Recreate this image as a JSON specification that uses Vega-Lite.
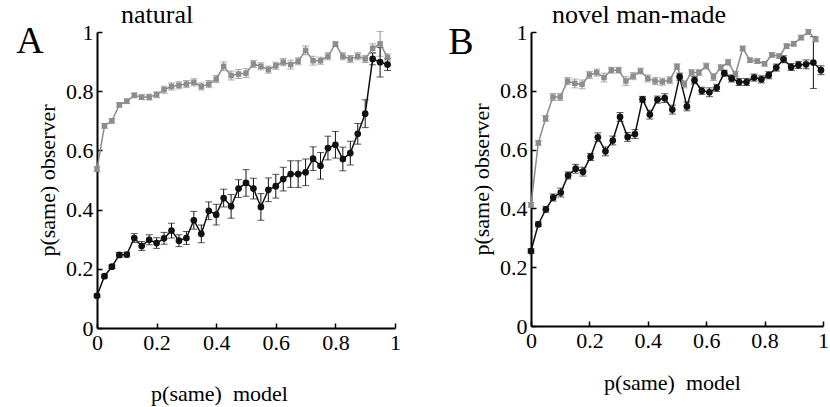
{
  "$schema": "https://vega.github.io/schema/vega-lite/v6.json",
  "padding": {"left": 16, "top": 2, "right": 0, "bottom": 2},
  "spacing": 136,
  "bounds": "flush",
  "datasets": {
    "pts": [
      {"p":"A","s":"gray","x":0,"y":0.537,"e":0.008},
      {"p":"A","s":"gray","x":0.025,"y":0.683,"e":0.008},
      {"p":"A","s":"gray","x":0.05,"y":0.7,"e":0.008},
      {"p":"A","s":"gray","x":0.075,"y":0.754,"e":0.008},
      {"p":"A","s":"gray","x":0.1,"y":0.766,"e":0.008},
      {"p":"A","s":"gray","x":0.125,"y":0.786,"e":0.008},
      {"p":"A","s":"gray","x":0.15,"y":0.78,"e":0.008},
      {"p":"A","s":"gray","x":0.175,"y":0.78,"e":0.01},
      {"p":"A","s":"gray","x":0.2,"y":0.788,"e":0.01},
      {"p":"A","s":"gray","x":0.225,"y":0.805,"e":0.012},
      {"p":"A","s":"gray","x":0.25,"y":0.816,"e":0.012},
      {"p":"A","s":"gray","x":0.275,"y":0.82,"e":0.012},
      {"p":"A","s":"gray","x":0.3,"y":0.824,"e":0.012},
      {"p":"A","s":"gray","x":0.325,"y":0.83,"e":0.012},
      {"p":"A","s":"gray","x":0.35,"y":0.816,"e":0.012},
      {"p":"A","s":"gray","x":0.375,"y":0.824,"e":0.012},
      {"p":"A","s":"gray","x":0.4,"y":0.841,"e":0.012},
      {"p":"A","s":"gray","x":0.425,"y":0.884,"e":0.015},
      {"p":"A","s":"gray","x":0.45,"y":0.853,"e":0.015},
      {"p":"A","s":"gray","x":0.475,"y":0.858,"e":0.015},
      {"p":"A","s":"gray","x":0.5,"y":0.861,"e":0.015},
      {"p":"A","s":"gray","x":0.525,"y":0.892,"e":0.012},
      {"p":"A","s":"gray","x":0.55,"y":0.884,"e":0.012},
      {"p":"A","s":"gray","x":0.575,"y":0.873,"e":0.012},
      {"p":"A","s":"gray","x":0.6,"y":0.886,"e":0.012},
      {"p":"A","s":"gray","x":0.625,"y":0.898,"e":0.012},
      {"p":"A","s":"gray","x":0.65,"y":0.89,"e":0.015},
      {"p":"A","s":"gray","x":0.675,"y":0.901,"e":0.012},
      {"p":"A","s":"gray","x":0.7,"y":0.938,"e":0.015},
      {"p":"A","s":"gray","x":0.725,"y":0.903,"e":0.015},
      {"p":"A","s":"gray","x":0.75,"y":0.903,"e":0.012},
      {"p":"A","s":"gray","x":0.775,"y":0.918,"e":0.012},
      {"p":"A","s":"gray","x":0.8,"y":0.959,"e":0.008},
      {"p":"A","s":"gray","x":0.825,"y":0.918,"e":0.012},
      {"p":"A","s":"gray","x":0.85,"y":0.909,"e":0.012},
      {"p":"A","s":"gray","x":0.875,"y":0.918,"e":0.012},
      {"p":"A","s":"gray","x":0.9,"y":0.909,"e":0.012},
      {"p":"A","s":"gray","x":0.925,"y":0.945,"e":0.015},
      {"p":"A","s":"gray","x":0.95,"y":0.96,"e":0.042},
      {"p":"A","s":"gray","x":0.975,"y":0.914,"e":0.012},
      {"p":"A","s":"black","x":0,"y":0.109,"e":0.006},
      {"p":"A","s":"black","x":0.025,"y":0.175,"e":0.006},
      {"p":"A","s":"black","x":0.05,"y":0.207,"e":0.006},
      {"p":"A","s":"black","x":0.075,"y":0.247,"e":0.008},
      {"p":"A","s":"black","x":0.1,"y":0.248,"e":0.008},
      {"p":"A","s":"black","x":0.125,"y":0.304,"e":0.015},
      {"p":"A","s":"black","x":0.15,"y":0.277,"e":0.015},
      {"p":"A","s":"black","x":0.175,"y":0.298,"e":0.017},
      {"p":"A","s":"black","x":0.2,"y":0.287,"e":0.018},
      {"p":"A","s":"black","x":0.225,"y":0.303,"e":0.02},
      {"p":"A","s":"black","x":0.25,"y":0.329,"e":0.025},
      {"p":"A","s":"black","x":0.275,"y":0.295,"e":0.02},
      {"p":"A","s":"black","x":0.3,"y":0.304,"e":0.022},
      {"p":"A","s":"black","x":0.325,"y":0.364,"e":0.03},
      {"p":"A","s":"black","x":0.35,"y":0.318,"e":0.03},
      {"p":"A","s":"black","x":0.375,"y":0.396,"e":0.03},
      {"p":"A","s":"black","x":0.4,"y":0.383,"e":0.035},
      {"p":"A","s":"black","x":0.425,"y":0.439,"e":0.03},
      {"p":"A","s":"black","x":0.45,"y":0.411,"e":0.04},
      {"p":"A","s":"black","x":0.475,"y":0.471,"e":0.03},
      {"p":"A","s":"black","x":0.5,"y":0.49,"e":0.045},
      {"p":"A","s":"black","x":0.525,"y":0.471,"e":0.035},
      {"p":"A","s":"black","x":0.55,"y":0.409,"e":0.045},
      {"p":"A","s":"black","x":0.575,"y":0.467,"e":0.04},
      {"p":"A","s":"black","x":0.6,"y":0.479,"e":0.04},
      {"p":"A","s":"black","x":0.625,"y":0.503,"e":0.04},
      {"p":"A","s":"black","x":0.65,"y":0.52,"e":0.045},
      {"p":"A","s":"black","x":0.675,"y":0.52,"e":0.045},
      {"p":"A","s":"black","x":0.7,"y":0.526,"e":0.045},
      {"p":"A","s":"black","x":0.725,"y":0.572,"e":0.04},
      {"p":"A","s":"black","x":0.75,"y":0.548,"e":0.045},
      {"p":"A","s":"black","x":0.775,"y":0.608,"e":0.04},
      {"p":"A","s":"black","x":0.8,"y":0.619,"e":0.045},
      {"p":"A","s":"black","x":0.825,"y":0.571,"e":0.04},
      {"p":"A","s":"black","x":0.85,"y":0.591,"e":0.04},
      {"p":"A","s":"black","x":0.875,"y":0.656,"e":0.035},
      {"p":"A","s":"black","x":0.9,"y":0.724,"e":0.047},
      {"p":"A","s":"black","x":0.925,"y":0.909,"e":0.02},
      {"p":"A","s":"black","x":0.95,"y":0.898,"e":0.05},
      {"p":"A","s":"black","x":0.975,"y":0.89,"e":0.02},
      {"p":"B","s":"gray","x":0,"y":0.412,"e":0.008},
      {"p":"B","s":"gray","x":0.025,"y":0.623,"e":0.008},
      {"p":"B","s":"gray","x":0.05,"y":0.706,"e":0.01},
      {"p":"B","s":"gray","x":0.075,"y":0.779,"e":0.012},
      {"p":"B","s":"gray","x":0.1,"y":0.779,"e":0.012},
      {"p":"B","s":"gray","x":0.125,"y":0.833,"e":0.012},
      {"p":"B","s":"gray","x":0.15,"y":0.825,"e":0.015},
      {"p":"B","s":"gray","x":0.175,"y":0.822,"e":0.015},
      {"p":"B","s":"gray","x":0.2,"y":0.854,"e":0.012},
      {"p":"B","s":"gray","x":0.225,"y":0.862,"e":0.012},
      {"p":"B","s":"gray","x":0.25,"y":0.845,"e":0.015},
      {"p":"B","s":"gray","x":0.275,"y":0.87,"e":0.01},
      {"p":"B","s":"gray","x":0.3,"y":0.87,"e":0.01},
      {"p":"B","s":"gray","x":0.325,"y":0.833,"e":0.015},
      {"p":"B","s":"gray","x":0.35,"y":0.85,"e":0.012},
      {"p":"B","s":"gray","x":0.375,"y":0.867,"e":0.01},
      {"p":"B","s":"gray","x":0.4,"y":0.842,"e":0.012},
      {"p":"B","s":"gray","x":0.425,"y":0.833,"e":0.012},
      {"p":"B","s":"gray","x":0.45,"y":0.831,"e":0.012},
      {"p":"B","s":"gray","x":0.475,"y":0.836,"e":0.012},
      {"p":"B","s":"gray","x":0.5,"y":0.882,"e":0.01},
      {"p":"B","s":"gray","x":0.525,"y":0.822,"e":0.012},
      {"p":"B","s":"gray","x":0.55,"y":0.862,"e":0.01},
      {"p":"B","s":"gray","x":0.575,"y":0.862,"e":0.01},
      {"p":"B","s":"gray","x":0.6,"y":0.884,"e":0.01},
      {"p":"B","s":"gray","x":0.625,"y":0.847,"e":0.012},
      {"p":"B","s":"gray","x":0.65,"y":0.879,"e":0.01},
      {"p":"B","s":"gray","x":0.675,"y":0.897,"e":0.01},
      {"p":"B","s":"gray","x":0.7,"y":0.856,"e":0.01},
      {"p":"B","s":"gray","x":0.725,"y":0.944,"e":0.008},
      {"p":"B","s":"gray","x":0.75,"y":0.904,"e":0.008},
      {"p":"B","s":"gray","x":0.775,"y":0.901,"e":0.008},
      {"p":"B","s":"gray","x":0.8,"y":0.892,"e":0.008},
      {"p":"B","s":"gray","x":0.825,"y":0.922,"e":0.008},
      {"p":"B","s":"gray","x":0.85,"y":0.918,"e":0.008},
      {"p":"B","s":"gray","x":0.875,"y":0.952,"e":0.008},
      {"p":"B","s":"gray","x":0.9,"y":0.96,"e":0.008},
      {"p":"B","s":"gray","x":0.925,"y":0.981,"e":0.008},
      {"p":"B","s":"gray","x":0.95,"y":1.0,"e":0.008},
      {"p":"B","s":"gray","x":0.975,"y":0.975,"e":0.008},
      {"p":"B","s":"black","x":0,"y":0.255,"e":0.008},
      {"p":"B","s":"black","x":0.025,"y":0.346,"e":0.008},
      {"p":"B","s":"black","x":0.051,"y":0.397,"e":0.01},
      {"p":"B","s":"black","x":0.076,"y":0.437,"e":0.012},
      {"p":"B","s":"black","x":0.102,"y":0.454,"e":0.015},
      {"p":"B","s":"black","x":0.127,"y":0.512,"e":0.012},
      {"p":"B","s":"black","x":0.153,"y":0.535,"e":0.015},
      {"p":"B","s":"black","x":0.178,"y":0.525,"e":0.015},
      {"p":"B","s":"black","x":0.204,"y":0.575,"e":0.012},
      {"p":"B","s":"black","x":0.229,"y":0.642,"e":0.015},
      {"p":"B","s":"black","x":0.255,"y":0.594,"e":0.015},
      {"p":"B","s":"black","x":0.28,"y":0.631,"e":0.015},
      {"p":"B","s":"black","x":0.305,"y":0.711,"e":0.015},
      {"p":"B","s":"black","x":0.331,"y":0.643,"e":0.015},
      {"p":"B","s":"black","x":0.356,"y":0.653,"e":0.015},
      {"p":"B","s":"black","x":0.382,"y":0.771,"e":0.01},
      {"p":"B","s":"black","x":0.407,"y":0.719,"e":0.015},
      {"p":"B","s":"black","x":0.433,"y":0.77,"e":0.012},
      {"p":"B","s":"black","x":0.458,"y":0.775,"e":0.015},
      {"p":"B","s":"black","x":0.484,"y":0.736,"e":0.015},
      {"p":"B","s":"black","x":0.509,"y":0.848,"e":0.012},
      {"p":"B","s":"black","x":0.534,"y":0.747,"e":0.015},
      {"p":"B","s":"black","x":0.56,"y":0.836,"e":0.012},
      {"p":"B","s":"black","x":0.585,"y":0.8,"e":0.012},
      {"p":"B","s":"black","x":0.611,"y":0.795,"e":0.015},
      {"p":"B","s":"black","x":0.636,"y":0.81,"e":0.012},
      {"p":"B","s":"black","x":0.662,"y":0.86,"e":0.01},
      {"p":"B","s":"black","x":0.687,"y":0.842,"e":0.012},
      {"p":"B","s":"black","x":0.713,"y":0.83,"e":0.012},
      {"p":"B","s":"black","x":0.738,"y":0.83,"e":0.012},
      {"p":"B","s":"black","x":0.764,"y":0.845,"e":0.012},
      {"p":"B","s":"black","x":0.789,"y":0.839,"e":0.012},
      {"p":"B","s":"black","x":0.814,"y":0.853,"e":0.012},
      {"p":"B","s":"black","x":0.84,"y":0.879,"e":0.012},
      {"p":"B","s":"black","x":0.865,"y":0.907,"e":0.012},
      {"p":"B","s":"black","x":0.891,"y":0.881,"e":0.012},
      {"p":"B","s":"black","x":0.916,"y":0.888,"e":0.012},
      {"p":"B","s":"black","x":0.942,"y":0.89,"e":0.015},
      {"p":"B","s":"black","x":0.967,"y":0.896,"e":0.088},
      {"p":"B","s":"black","x":0.993,"y":0.87,"e":0.015}
    ]
  },
  "hconcat": [
    {
      "width": 298,
      "height": 296,
      "title": {"text": "natural", "anchor": "start", "frame": "group", "dx": 24},
      "layer": [
        {
          "data": {"name": "pts"},
          "transform": [{"filter": "datum.p === 'A'"}],
          "encoding": {
            "x": {"field": "x", "type": "quantitative", "scale": {"domain": [0, 1], "nice": false},
                  "axis": {"values": [0, 0.2, 0.4, 0.6, 0.8, 1], "title": "p(same)\u00a0 model", "titleX": 122, "titleAlign": "center", "titlePadding": 30}},
            "y": {"field": "y", "type": "quantitative", "scale": {"domain": [0, 1], "nice": false},
                  "axis": {"values": [0, 0.2, 0.4, 0.6, 0.8, 1], "title": "p(same) observer", "titlePadding": 6}},
            "color": {"field": "s", "type": "nominal", "scale": {"domain": ["gray", "black"], "range": ["#8c8c8c", "#111111"]}, "legend": null}
          },
          "layer": [
            {"mark": {"type": "errorbar", "ticks": {"size": 7}, "thickness": 1}, "encoding": {"yError": {"field": "e"}}},
            {"mark": {"type": "line", "strokeWidth": 1.5}},
            {"mark": {"type": "point", "filled": true, "opacity": 1},
             "encoding": {"shape": {"field": "s", "type": "nominal", "scale": {"domain": ["gray", "black"], "range": ["square", "circle"]}, "legend": null},
                          "size": {"field": "s", "type": "nominal", "scale": {"domain": ["gray", "black"], "range": [30, 45]}, "legend": null}}}
          ]
        },
        {
          "data": {"values": [{"label": "A"}]},
          "mark": {"type": "text", "fontSize": 38, "align": "center", "baseline": "alphabetic", "font": "Liberation Serif", "color": "#000000"},
          "encoding": {"x": {"datum": -0.225, "type": "quantitative"}, "y": {"datum": 0.93, "type": "quantitative"}, "text": {"field": "label"}}
        }
      ]
    },
    {
      "width": 292,
      "height": 294,
      "title": {"text": "novel man-made", "anchor": "start", "frame": "group", "dx": 21},
      "layer": [
        {
          "data": {"name": "pts"},
          "transform": [{"filter": "datum.p === 'B'"}],
          "encoding": {
            "x": {"field": "x", "type": "quantitative", "scale": {"domain": [0, 1], "nice": false},
                  "axis": {"values": [0, 0.2, 0.4, 0.6, 0.8, 1], "title": "p(same)\u00a0 model", "titleX": 141, "titleAlign": "center", "titlePadding": 21}},
            "y": {"field": "y", "type": "quantitative", "scale": {"domain": [0, 1], "nice": false},
                  "axis": {"values": [0, 0.2, 0.4, 0.6, 0.8, 1], "title": "p(same) observer", "titlePadding": 6}},
            "color": {"field": "s", "type": "nominal", "scale": {"domain": ["gray", "black"], "range": ["#8c8c8c", "#111111"]}, "legend": null}
          },
          "layer": [
            {"mark": {"type": "errorbar", "ticks": {"size": 7}, "thickness": 1}, "encoding": {"yError": {"field": "e"}}},
            {"mark": {"type": "line", "strokeWidth": 1.5}},
            {"mark": {"type": "point", "filled": true, "opacity": 1},
             "encoding": {"shape": {"field": "s", "type": "nominal", "scale": {"domain": ["gray", "black"], "range": ["square", "circle"]}, "legend": null},
                          "size": {"field": "s", "type": "nominal", "scale": {"domain": ["gray", "black"], "range": [30, 45]}, "legend": null}}}
          ]
        },
        {
          "data": {"values": [{"label": "B"}]},
          "mark": {"type": "text", "fontSize": 38, "align": "center", "baseline": "alphabetic", "font": "Liberation Serif", "color": "#000000"},
          "encoding": {"x": {"datum": -0.24, "type": "quantitative"}, "y": {"datum": 0.925, "type": "quantitative"}, "text": {"field": "label"}}
        }
      ]
    }
  ],
  "config": {
    "font": "Liberation Serif",
    "view": {"stroke": null},
    "title": {"font": "Liberation Serif", "fontSize": 26, "fontWeight": "normal", "color": "#000000", "offset": -7},
    "axis": {
      "grid": false,
      "domainColor": "#000000",
      "domainWidth": 2,
      "tickColor": "#000000",
      "tickWidth": 1.5,
      "tickSize": -5,
      "labelFont": "Liberation Serif",
      "labelFontSize": 22,
      "labelColor": "#000000",
      "labelPadding": 9,
      "labelFlush": false,
      "labelOverlap": false,
      "titleFont": "Liberation Serif",
      "titleFontSize": 22,
      "titleFontWeight": "normal",
      "titleColor": "#000000",
      "format": "~g"
    }
  }
}
